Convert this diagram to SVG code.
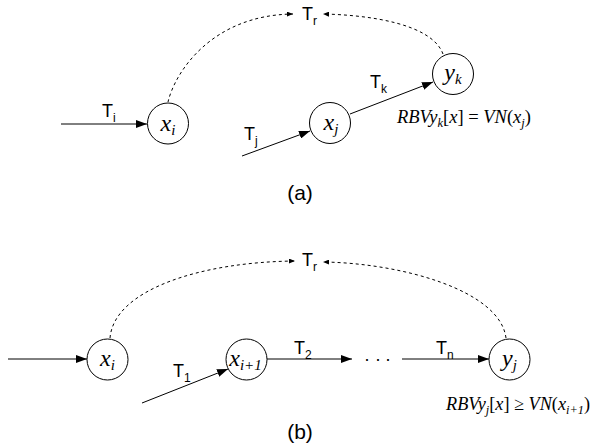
<svg xmlns="http://www.w3.org/2000/svg" width="593" height="448" viewBox="0 0 593 448">
  <style>
    .node circle { fill: #fff; stroke: #000; stroke-width: 1; }
    .var { font-family: "Liberation Serif", "Times New Roman", serif; font-style: italic; fill: #000; }
    .nv { font-size: 24px; text-anchor: middle; }
    .eq { font-size: 18.5px; }
    .up { font-style: normal; }
    .lbl { font-family: "Liberation Sans", Arial, sans-serif; font-size: 18px; fill: #000; }
    .edge { fill: none; stroke: #000; stroke-width: 1; }
    .dash { fill: none; stroke: #000; stroke-width: 1; stroke-dasharray: 3 3; }
  </style>
  <defs>
    <marker id="arrow" viewBox="0 0 11 8" refX="11" refY="4" markerWidth="11" markerHeight="8" markerUnits="userSpaceOnUse" orient="auto">
      <path d="M0,0 L11,4 L0,8 Z" fill="#000"/>
    </marker>
    <marker id="arrowSmall" viewBox="0 0 6 5" refX="6" refY="2.5" markerWidth="6" markerHeight="5" markerUnits="userSpaceOnUse" orient="auto">
      <path d="M0,0 L6,2.5 L0,5 Z" fill="#000"/>
    </marker>
  </defs>

  <!-- connectors -->
  <g id="connectors">
    <!-- part (a) -->
    <line class="edge" x1="61" y1="124" x2="147" y2="124" marker-end="url(#arrow)"/>
    <line class="edge" x1="242" y1="156" x2="310" y2="131" marker-end="url(#arrow)"/>
    <line class="edge" x1="350" y1="114" x2="433" y2="82" marker-end="url(#arrow)"/>
    <path class="dash" d="M168,102 C175,72 212,15 293,14" marker-end="url(#arrowSmall)"/>
    <path class="dash" d="M443,54 C432,24 370,15 323,14" marker-end="url(#arrowSmall)"/>
    <!-- part (b) -->
    <line class="edge" x1="8" y1="359" x2="87" y2="359" marker-end="url(#arrow)"/>
    <line class="edge" x1="142" y1="403" x2="228" y2="369" marker-end="url(#arrow)"/>
    <line class="edge" x1="267" y1="359" x2="352" y2="359" marker-end="url(#arrow)"/>
    <line class="edge" x1="402" y1="359" x2="489" y2="359" marker-end="url(#arrow)"/>
    <path class="dash" d="M110,338 C114,290 200,262 295,261" marker-end="url(#arrowSmall)"/>
    <path class="dash" d="M506,338 C500,290 400,263 323,262" marker-end="url(#arrowSmall)"/>
  </g>

  <!-- edge labels -->
  <g id="labels" class="lbl">
    <text x="102" y="117">T<tspan font-size="12" dy="5">i</tspan></text>
    <text x="302" y="20">T<tspan font-size="12" dy="5">r</tspan></text>
    <text x="244" y="140">T<tspan font-size="12" dy="5">j</tspan></text>
    <text x="370" y="88">T<tspan font-size="12" dy="5">k</tspan></text>
    <text x="302" y="266">T<tspan font-size="12" dy="5">r</tspan></text>
    <text x="173" y="377">T<tspan font-size="12" dy="5">1</tspan></text>
    <text x="294" y="354">T<tspan font-size="12" dy="5">2</tspan></text>
    <text x="436" y="354">T<tspan font-size="12" dy="5">n</tspan></text>
    <text x="364 375 385" y="365">···</text>
    <text x="300" y="200" text-anchor="middle" font-size="21">(a)</text>
    <text x="300" y="439" text-anchor="middle" font-size="21">(b)</text>
  </g>

  <!-- part (a) nodes -->
  <g id="a-xi" class="node">
    <circle cx="168" cy="123.5" r="20.5"/>
    <text class="var nv" x="168" y="131">x<tspan font-size="15" dy="4">i</tspan></text>
  </g>
  <g id="a-xj" class="node">
    <circle cx="330" cy="123" r="20.5"/>
    <text class="var nv" x="331" y="130">x<tspan font-size="15" dy="4">j</tspan></text>
  </g>
  <g id="a-yk" class="node">
    <circle cx="453" cy="74" r="20.5"/>
    <text class="var nv" x="453" y="80">y<tspan font-size="15" dy="4">k</tspan></text>
  </g>
  <text class="var eq" x="397" y="123">RBVy<tspan font-size="12.5" dy="4">k</tspan><tspan class="up" dy="-4">[</tspan>x<tspan class="up">] = </tspan>VN<tspan class="up">(</tspan>x<tspan font-size="12.5" dy="4">j</tspan><tspan class="up" dy="-4">)</tspan></text>

  <!-- part (b) nodes -->
  <g id="b-xi" class="node">
    <circle cx="107.5" cy="359.5" r="20.5"/>
    <text class="var nv" x="107.5" y="366">x<tspan font-size="15" dy="4">i</tspan></text>
  </g>
  <g id="b-xi1" class="node">
    <circle cx="246.5" cy="359.5" r="20.5"/>
    <text class="var nv" x="245.5" y="366">x<tspan font-size="15" dy="4">i+1</tspan></text>
  </g>
  <g id="b-yj" class="node">
    <circle cx="509.5" cy="359.5" r="20.5"/>
    <text class="var nv" x="509.5" y="366">y<tspan font-size="15" dy="4">j</tspan></text>
  </g>
  <text class="var eq" x="446" y="410" textLength="144" lengthAdjust="spacingAndGlyphs">RBVy<tspan font-size="12.5" dy="4">j</tspan><tspan class="up" dy="-4">[</tspan>x<tspan class="up">] ≥ </tspan>VN<tspan class="up">(</tspan>x<tspan font-size="12.5" dy="4">i+1</tspan><tspan class="up" dy="-4">)</tspan></text>
</svg>
